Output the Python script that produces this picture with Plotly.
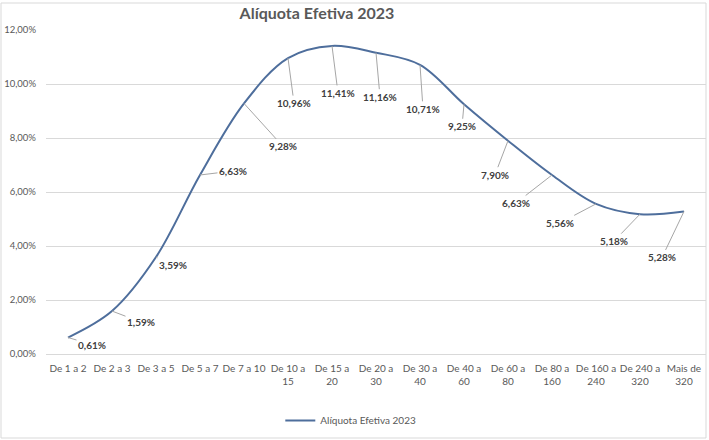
import plotly.graph_objects as go

categories = ["De 1 a 2", "De 2 a 3", "De 3 a 5", "De 5 a 7", "De 7 a 10",
              "De 10 a<br>15", "De 15 a<br>20", "De 20 a<br>30", "De 30 a<br>40",
              "De 40 a<br>60", "De 60 a<br>80", "De 80 a<br>160", "De 160 a<br>240",
              "De 240 a<br>320", "Mais de<br>320"]
values_pct = [0.61, 1.59, 3.59, 6.63, 9.28, 10.96, 11.41, 11.16, 10.71,
              9.25, 7.90, 6.63, 5.56, 5.18, 5.28]
series_name = "Alíquota Efetiva 2023"
y_ticks = [0, 0.02, 0.04, 0.06, 0.08, 0.10, 0.12]

# label offsets (pixels) relative to each point
label_dx = [24, 29, 17, 33, 39, 6, 6, 4, 3, -2, -13, -36, -36, -26, -22]
label_dy = [7, 11, 8, -4, 43, 45, 47, 44, 44, 22, 34, 28, 19, 27, 46]

line_color = "#4E6E9C"
text_color = "#595959"
font_family = "Lato, Open Sans, sans-serif"

W, H = 709, 440
ML, MR, MT, MB = 46, 3, 30, 86
PW, PH = W - ML - MR, H - MT - MB

yvals = [v / 100 for v in values_pct]

fig = go.Figure()
fig.add_trace(go.Scatter(
    x=categories, y=yvals, mode="lines", name=series_name,
    line=dict(color=line_color, width=2, shape="spline", smoothing=1.0),
    hoverinfo="skip",
))

for i, (c, y, v) in enumerate(zip(categories, yvals, values_pct)):
    fig.add_annotation(
        x=c, y=y, xref="x", yref="y",
        text="<b>" + f"{v:.2f}".replace(".", ",") + "%</b>",
        showarrow=True, arrowhead=0, arrowwidth=1, arrowcolor="#A6A6A6",
        ax=label_dx[i], ay=label_dy[i], axref="pixel", ayref="pixel",
        standoff=0, startstandoff=0,
        font=dict(family=font_family, size=10, color="#404040"),
    )

# chart-area border
fig.add_shape(type="rect", xref="paper", yref="paper",
              x0=(1 - ML) / PW, x1=(706 - ML) / PW,
              y0=(MT + PH - 438) / PH, y1=(MT + PH - 3) / PH,
              line=dict(color="#D9D9D9", width=1), fillcolor="rgba(0,0,0,0)",
              layer="below")

fig.update_layout(
    width=W, height=H,
    margin=dict(l=ML, r=MR, t=MT, b=MB),
    paper_bgcolor="white", plot_bgcolor="white",
    separators=",.",
    title=dict(text="<b>Alíquota Efetiva 2023</b>", x=317 / W, xanchor="center",
               y=1 - 13 / H, yanchor="middle",
               font=dict(family=font_family, size=16, color=text_color)),
    showlegend=True,
    legend=dict(orientation="h", x=0.355, xanchor="left", y=-0.205, yanchor="middle",
                itemwidth=30,
                font=dict(family=font_family, size=10, color=text_color)),
    font=dict(family=font_family, size=10, color=text_color),
)
fig.update_xaxes(
    type="category", showgrid=False, showline=True, linecolor="#D9D9D9", linewidth=1,
    ticks="", tickfont=dict(size=10, color=text_color), tickangle=0,
    range=[-0.5, len(categories) - 0.5], automargin=False, ticklabelstandoff=5,
)
fig.update_yaxes(
    range=[0, 0.12], tickvals=y_ticks, tickformat=".2%",
    showgrid=True, gridcolor="#D9D9D9", gridwidth=1, zeroline=False,
    showline=False, ticks="", tickfont=dict(size=9.5, color=text_color),
    automargin=False, ticklabelstandoff=9,
)

fig.write_html("out.html", config={"displayModeBar": False},
               post_script="document.body.style.margin='0px';")
